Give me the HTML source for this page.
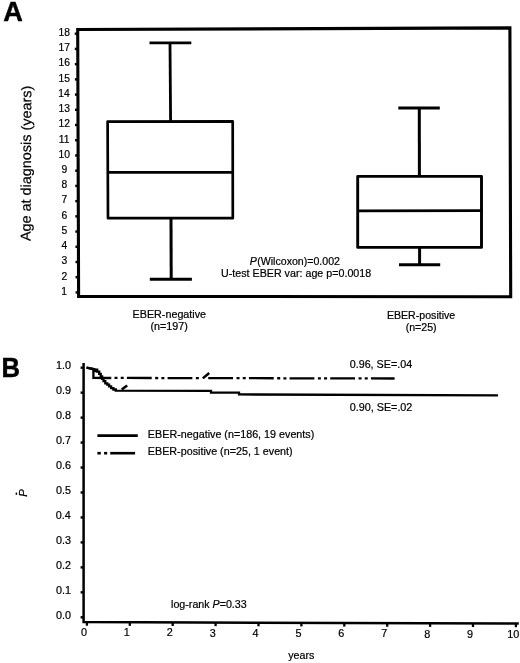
<!DOCTYPE html>
<html><head><meta charset="utf-8"><style>
html,body{margin:0;padding:0;background:#fff;}
svg{display:block;will-change:transform;}
text{font-family:"Liberation Sans", sans-serif;fill:#000;}
</style></head><body>
<svg width="520" height="663" viewBox="0 0 520 663">
<rect width="520" height="663" fill="#fff"/>
<path d="M77.7,29.5 L509.9,27.9 L510.7,296.8 L78.6,296.4 Z" fill="none" stroke="#000" stroke-width="3.1" stroke-linecap="butt" stroke-linejoin="miter"/>
<line x1="75.59" y1="292.44" x2="78.59" y2="292.44" stroke="#000" stroke-width="2.4" stroke-linecap="butt"/>
<line x1="75.54" y1="277.22" x2="78.54" y2="277.22" stroke="#000" stroke-width="2.4" stroke-linecap="butt"/>
<line x1="75.48" y1="262" x2="78.48" y2="262" stroke="#000" stroke-width="2.4" stroke-linecap="butt"/>
<line x1="75.43" y1="246.78" x2="78.43" y2="246.78" stroke="#000" stroke-width="2.4" stroke-linecap="butt"/>
<line x1="75.38" y1="231.56" x2="78.38" y2="231.56" stroke="#000" stroke-width="2.4" stroke-linecap="butt"/>
<line x1="75.33" y1="216.34" x2="78.33" y2="216.34" stroke="#000" stroke-width="2.4" stroke-linecap="butt"/>
<line x1="75.28" y1="201.12" x2="78.28" y2="201.12" stroke="#000" stroke-width="2.4" stroke-linecap="butt"/>
<line x1="75.23" y1="185.9" x2="78.23" y2="185.9" stroke="#000" stroke-width="2.4" stroke-linecap="butt"/>
<line x1="75.18" y1="170.68" x2="78.18" y2="170.68" stroke="#000" stroke-width="2.4" stroke-linecap="butt"/>
<line x1="75.12" y1="155.46" x2="78.12" y2="155.46" stroke="#000" stroke-width="2.4" stroke-linecap="butt"/>
<line x1="75.07" y1="140.24" x2="78.07" y2="140.24" stroke="#000" stroke-width="2.4" stroke-linecap="butt"/>
<line x1="75.02" y1="125.02" x2="78.02" y2="125.02" stroke="#000" stroke-width="2.4" stroke-linecap="butt"/>
<line x1="74.97" y1="109.8" x2="77.97" y2="109.8" stroke="#000" stroke-width="2.4" stroke-linecap="butt"/>
<line x1="74.92" y1="94.58" x2="77.92" y2="94.58" stroke="#000" stroke-width="2.4" stroke-linecap="butt"/>
<line x1="74.87" y1="79.36" x2="77.87" y2="79.36" stroke="#000" stroke-width="2.4" stroke-linecap="butt"/>
<line x1="74.82" y1="64.14" x2="77.82" y2="64.14" stroke="#000" stroke-width="2.4" stroke-linecap="butt"/>
<line x1="74.77" y1="48.92" x2="77.77" y2="48.92" stroke="#000" stroke-width="2.4" stroke-linecap="butt"/>
<line x1="74.71" y1="33.7" x2="77.71" y2="33.7" stroke="#000" stroke-width="2.4" stroke-linecap="butt"/>
<line x1="149.5" y1="42.9" x2="191.3" y2="42.9" stroke="#000" stroke-width="2.9" stroke-linecap="butt"/>
<line x1="170" y1="42.9" x2="170.6" y2="121.7" stroke="#000" stroke-width="2.8" stroke-linecap="butt"/>
<path d="M107.6,121.7 L232.7,121.4 L232.8,218.2 L108.0,218.2 Z" fill="none" stroke="#000" stroke-width="2.7" stroke-linecap="butt" stroke-linejoin="round"/>
<line x1="107.6" y1="172.3" x2="232.7" y2="172.3" stroke="#000" stroke-width="2.7" stroke-linecap="butt"/>
<line x1="171" y1="218.2" x2="171.2" y2="279.3" stroke="#000" stroke-width="3" stroke-linecap="butt"/>
<line x1="149.8" y1="279.3" x2="191.9" y2="279.3" stroke="#000" stroke-width="2.9" stroke-linecap="butt"/>
<line x1="398.3" y1="107.9" x2="439.8" y2="107.9" stroke="#000" stroke-width="3" stroke-linecap="butt"/>
<line x1="419.3" y1="107.9" x2="419.4" y2="176.4" stroke="#000" stroke-width="3" stroke-linecap="butt"/>
<path d="M357.7,176.4 L481.5,176.4 L481.5,247.4 L357.7,247.4 Z" fill="none" stroke="#000" stroke-width="2.9" stroke-linecap="butt" stroke-linejoin="round"/>
<line x1="357.7" y1="210.9" x2="481.5" y2="210.7" stroke="#000" stroke-width="2.8" stroke-linecap="butt"/>
<line x1="419.6" y1="247.4" x2="419.6" y2="264.8" stroke="#000" stroke-width="3" stroke-linecap="butt"/>
<line x1="399" y1="264.8" x2="440.2" y2="264.8" stroke="#000" stroke-width="3" stroke-linecap="butt"/>
<path d="M83.6,363.1 L83.6,622.1 L518.8,623.6" fill="none" stroke="#000" stroke-width="2.5" stroke-linecap="butt" stroke-linejoin="miter"/>
<line x1="80.6" y1="617.3" x2="83" y2="617.3" stroke="#000" stroke-width="2.4" stroke-linecap="butt"/>
<line x1="80.6" y1="592.34" x2="83" y2="592.34" stroke="#000" stroke-width="2.4" stroke-linecap="butt"/>
<line x1="80.6" y1="567.38" x2="83" y2="567.38" stroke="#000" stroke-width="2.4" stroke-linecap="butt"/>
<line x1="80.6" y1="542.42" x2="83" y2="542.42" stroke="#000" stroke-width="2.4" stroke-linecap="butt"/>
<line x1="80.6" y1="517.46" x2="83" y2="517.46" stroke="#000" stroke-width="2.4" stroke-linecap="butt"/>
<line x1="80.6" y1="492.5" x2="83" y2="492.5" stroke="#000" stroke-width="2.4" stroke-linecap="butt"/>
<line x1="80.6" y1="467.54" x2="83" y2="467.54" stroke="#000" stroke-width="2.4" stroke-linecap="butt"/>
<line x1="80.6" y1="442.58" x2="83" y2="442.58" stroke="#000" stroke-width="2.4" stroke-linecap="butt"/>
<line x1="80.6" y1="417.62" x2="83" y2="417.62" stroke="#000" stroke-width="2.4" stroke-linecap="butt"/>
<line x1="80.6" y1="392.66" x2="83" y2="392.66" stroke="#000" stroke-width="2.4" stroke-linecap="butt"/>
<line x1="80.6" y1="367.7" x2="83" y2="367.7" stroke="#000" stroke-width="2.4" stroke-linecap="butt"/>
<line x1="86.9" y1="622.11" x2="86.9" y2="625.71" stroke="#000" stroke-width="2.3" stroke-linecap="butt"/>
<line x1="129.8" y1="622.26" x2="129.8" y2="625.86" stroke="#000" stroke-width="2.3" stroke-linecap="butt"/>
<line x1="172.7" y1="622.41" x2="172.7" y2="626.01" stroke="#000" stroke-width="2.3" stroke-linecap="butt"/>
<line x1="215.6" y1="622.55" x2="215.6" y2="626.15" stroke="#000" stroke-width="2.3" stroke-linecap="butt"/>
<line x1="258.5" y1="622.7" x2="258.5" y2="626.3" stroke="#000" stroke-width="2.3" stroke-linecap="butt"/>
<line x1="301.4" y1="622.85" x2="301.4" y2="626.45" stroke="#000" stroke-width="2.3" stroke-linecap="butt"/>
<line x1="344.3" y1="623" x2="344.3" y2="626.6" stroke="#000" stroke-width="2.3" stroke-linecap="butt"/>
<line x1="387.2" y1="623.15" x2="387.2" y2="626.75" stroke="#000" stroke-width="2.3" stroke-linecap="butt"/>
<line x1="430.1" y1="623.29" x2="430.1" y2="626.89" stroke="#000" stroke-width="2.3" stroke-linecap="butt"/>
<line x1="473" y1="623.44" x2="473" y2="627.04" stroke="#000" stroke-width="2.3" stroke-linecap="butt"/>
<line x1="515.9" y1="623.59" x2="515.9" y2="627.19" stroke="#000" stroke-width="2.3" stroke-linecap="butt"/>
<path d="M86.5,367.6 L93.3,369.2 L95.6,369.7 H97.2 V371.6 H99.2 V373.9 H100.7 V376.3 H102.1 V378.9 H103.5 V381.1 H105.3 V383.3 H107.3 V384.6 H109.1 V386.3 H111.1 V388.1 H113.4 V389.5 H115.8 V390.6 L211,390.8 L211,392.5 L239,392.7 L239,394.45 L498,395.35" fill="none" stroke="#000" stroke-width="2.3" stroke-linecap="butt" stroke-linejoin="miter"/>
<line x1="121.7" y1="389.5" x2="127.2" y2="385.5" stroke="#000" stroke-width="2.5" stroke-linecap="butt"/>
<path d="M86.5,367.6 L93.5,369 L97,370.6" fill="none" stroke="#000" stroke-width="2.3" stroke-linecap="butt" stroke-linejoin="round"/>
<path d="M97,371 L93.4,371 L93.4,377.8 L111.3,378.0" fill="none" stroke="#000" stroke-width="2.3" stroke-linecap="butt" stroke-linejoin="miter"/>
<path d="M114.53,377.94 L117.53,377.95 M120.73,377.95 L123.73,377.96 M126.9,377.97 L151.7,378.02 M155.2,378.02 L158.2,378.03 M161.4,378.04 L164.4,378.04 M167.57,378.05 L192.37,378.1 M195.87,378.1 L198.87,378.11 M208.24,378.13 L233.04,378.18 M236.54,378.19 L239.54,378.19 M242.74,378.2 L245.74,378.2 M248.91,378.21 L273.71,378.26 M277.21,378.27 L280.21,378.27 M283.41,378.28 L286.41,378.28 M289.58,378.29 L314.38,378.34 M317.88,378.35 L320.88,378.35 M324.08,378.36 L327.08,378.37 M330.25,378.37 L355.05,378.42 M358.55,378.43 L361.55,378.43 M364.75,378.44 L367.75,378.45 M370.92,378.45 L394.6,378.5" fill="none" stroke="#000" stroke-width="2.3" stroke-linecap="butt" stroke-linejoin="miter"/>
<line x1="202.8" y1="378.4" x2="209.2" y2="373" stroke="#000" stroke-width="2.5" stroke-linecap="butt"/>
<line x1="97.4" y1="435.6" x2="137.8" y2="435.6" stroke="#000" stroke-width="2.6" stroke-linecap="butt"/>
<line x1="97.4" y1="453.2" x2="100.8" y2="453.2" stroke="#000" stroke-width="2.6" stroke-linecap="butt"/>
<line x1="104.1" y1="453.2" x2="107.2" y2="453.2" stroke="#000" stroke-width="2.6" stroke-linecap="butt"/>
<line x1="110.2" y1="453.2" x2="135.1" y2="453.2" stroke="#000" stroke-width="2.6" stroke-linecap="butt"/>
<line x1="16.4" y1="492.6" x2="16.4" y2="494.8" stroke="#000" stroke-width="1.5" stroke-linecap="butt"/>
<text x="3.31" y="21" font-size="27.5" font-weight="bold" textLength="19.61" lengthAdjust="spacingAndGlyphs" stroke="#000" stroke-width="0.5" stroke-linejoin="round">A</text>
<text x="1.48" y="377" font-size="27" font-weight="bold" textLength="18.47" lengthAdjust="spacingAndGlyphs" stroke="#000" stroke-width="0.5" stroke-linejoin="round">B</text>
<text x="61.31" y="295" font-size="10" font-weight="normal" textLength="5.73" lengthAdjust="spacingAndGlyphs" stroke="#000" stroke-width="0.2" stroke-linejoin="round">1</text>
<text x="61.44" y="280" font-size="10" font-weight="normal" textLength="5.73" lengthAdjust="spacingAndGlyphs" stroke="#000" stroke-width="0.2" stroke-linejoin="round">2</text>
<text x="61.57" y="264" font-size="10" font-weight="normal" textLength="5.73" lengthAdjust="spacingAndGlyphs" stroke="#000" stroke-width="0.2" stroke-linejoin="round">3</text>
<text x="61.44" y="249" font-size="10" font-weight="normal" textLength="5.73" lengthAdjust="spacingAndGlyphs" stroke="#000" stroke-width="0.2" stroke-linejoin="round">4</text>
<text x="61.57" y="234" font-size="10" font-weight="normal" textLength="5.73" lengthAdjust="spacingAndGlyphs" stroke="#000" stroke-width="0.2" stroke-linejoin="round">5</text>
<text x="61.44" y="219" font-size="10" font-weight="normal" textLength="5.73" lengthAdjust="spacingAndGlyphs" stroke="#000" stroke-width="0.2" stroke-linejoin="round">6</text>
<text x="61.44" y="203" font-size="10" font-weight="normal" textLength="5.73" lengthAdjust="spacingAndGlyphs" stroke="#000" stroke-width="0.2" stroke-linejoin="round">7</text>
<text x="61.57" y="188" font-size="10" font-weight="normal" textLength="5.73" lengthAdjust="spacingAndGlyphs" stroke="#000" stroke-width="0.2" stroke-linejoin="round">8</text>
<text x="61.57" y="173" font-size="10" font-weight="normal" textLength="5.73" lengthAdjust="spacingAndGlyphs" stroke="#000" stroke-width="0.2" stroke-linejoin="round">9</text>
<text x="58.48" y="158" font-size="10" font-weight="normal" textLength="11.46" lengthAdjust="spacingAndGlyphs" stroke="#000" stroke-width="0.2" stroke-linejoin="round">10</text>
<text x="58.86" y="143" font-size="10" font-weight="normal" textLength="10.7" lengthAdjust="spacingAndGlyphs" stroke="#000" stroke-width="0.2" stroke-linejoin="round">11</text>
<text x="58.48" y="127" font-size="10" font-weight="normal" textLength="11.46" lengthAdjust="spacingAndGlyphs" stroke="#000" stroke-width="0.2" stroke-linejoin="round">12</text>
<text x="58.48" y="112" font-size="10" font-weight="normal" textLength="11.46" lengthAdjust="spacingAndGlyphs" stroke="#000" stroke-width="0.2" stroke-linejoin="round">13</text>
<text x="58.35" y="97" font-size="10" font-weight="normal" textLength="11.46" lengthAdjust="spacingAndGlyphs" stroke="#000" stroke-width="0.2" stroke-linejoin="round">14</text>
<text x="58.48" y="82" font-size="10" font-weight="normal" textLength="11.46" lengthAdjust="spacingAndGlyphs" stroke="#000" stroke-width="0.2" stroke-linejoin="round">15</text>
<text x="58.48" y="66" font-size="10" font-weight="normal" textLength="11.46" lengthAdjust="spacingAndGlyphs" stroke="#000" stroke-width="0.2" stroke-linejoin="round">16</text>
<text x="58.48" y="51" font-size="10" font-weight="normal" textLength="11.46" lengthAdjust="spacingAndGlyphs" stroke="#000" stroke-width="0.2" stroke-linejoin="round">17</text>
<text x="58.48" y="36" font-size="10" font-weight="normal" textLength="11.46" lengthAdjust="spacingAndGlyphs" stroke="#000" stroke-width="0.2" stroke-linejoin="round">18</text>
<text x="30.6" y="241.1" font-size="14.2" font-weight="normal" textLength="155.46" lengthAdjust="spacingAndGlyphs" transform="rotate(-89.7 30.6 241.1)" stroke="#000" stroke-width="0.2" stroke-linejoin="round">Age at diagnosis (years)</text>
<text x="249.73" y="265" font-size="10" font-weight="normal" textLength="90.28" lengthAdjust="spacingAndGlyphs" stroke="#000" stroke-width="0.2" stroke-linejoin="round"><tspan font-style="italic">P</tspan><tspan dx="0.4">(Wilcoxon)=0.002</tspan></text>
<text x="221" y="277" font-size="10" font-weight="normal" textLength="150.19" lengthAdjust="spacingAndGlyphs" stroke="#000" stroke-width="0.2" stroke-linejoin="round">U-test EBER var: age p=0.0018</text>
<text x="132.59" y="318" font-size="10" font-weight="normal" textLength="73.51" lengthAdjust="spacingAndGlyphs" stroke="#000" stroke-width="0.2" stroke-linejoin="round">EBER-negative</text>
<text x="150.46" y="330" font-size="10" font-weight="normal" textLength="37.38" lengthAdjust="spacingAndGlyphs" stroke="#000" stroke-width="0.2" stroke-linejoin="round">(n=197)</text>
<text x="386.91" y="319" font-size="10" font-weight="normal" textLength="68.33" lengthAdjust="spacingAndGlyphs" stroke="#000" stroke-width="0.2" stroke-linejoin="round">EBER-positive</text>
<text x="405.67" y="331" font-size="10" font-weight="normal" textLength="31" lengthAdjust="spacingAndGlyphs" stroke="#000" stroke-width="0.2" stroke-linejoin="round">(n=25)</text>
<text x="55.92" y="619" font-size="10" font-weight="normal" textLength="15.02" lengthAdjust="spacingAndGlyphs" stroke="#000" stroke-width="0.2" stroke-linejoin="round">0.0</text>
<text x="55.92" y="594" font-size="10" font-weight="normal" textLength="15.02" lengthAdjust="spacingAndGlyphs" stroke="#000" stroke-width="0.2" stroke-linejoin="round">0.1</text>
<text x="55.92" y="569" font-size="10" font-weight="normal" textLength="15.02" lengthAdjust="spacingAndGlyphs" stroke="#000" stroke-width="0.2" stroke-linejoin="round">0.2</text>
<text x="55.92" y="544" font-size="10" font-weight="normal" textLength="15.02" lengthAdjust="spacingAndGlyphs" stroke="#000" stroke-width="0.2" stroke-linejoin="round">0.3</text>
<text x="55.65" y="519" font-size="10" font-weight="normal" textLength="15.02" lengthAdjust="spacingAndGlyphs" stroke="#000" stroke-width="0.2" stroke-linejoin="round">0.4</text>
<text x="55.92" y="494" font-size="10" font-weight="normal" textLength="15.02" lengthAdjust="spacingAndGlyphs" stroke="#000" stroke-width="0.2" stroke-linejoin="round">0.5</text>
<text x="55.92" y="469" font-size="10" font-weight="normal" textLength="15.02" lengthAdjust="spacingAndGlyphs" stroke="#000" stroke-width="0.2" stroke-linejoin="round">0.6</text>
<text x="55.92" y="444" font-size="10" font-weight="normal" textLength="15.02" lengthAdjust="spacingAndGlyphs" stroke="#000" stroke-width="0.2" stroke-linejoin="round">0.7</text>
<text x="55.92" y="419" font-size="10" font-weight="normal" textLength="15.02" lengthAdjust="spacingAndGlyphs" stroke="#000" stroke-width="0.2" stroke-linejoin="round">0.8</text>
<text x="55.92" y="394" font-size="10" font-weight="normal" textLength="15.02" lengthAdjust="spacingAndGlyphs" stroke="#000" stroke-width="0.2" stroke-linejoin="round">0.9</text>
<text x="55.92" y="369" font-size="10" font-weight="normal" textLength="15.02" lengthAdjust="spacingAndGlyphs" stroke="#000" stroke-width="0.2" stroke-linejoin="round">1.0</text>
<text x="81.09" y="636" font-size="10.5" font-weight="normal" textLength="6.02" lengthAdjust="spacingAndGlyphs" stroke="#000" stroke-width="0.2" stroke-linejoin="round">0</text>
<text x="123.73" y="636" font-size="10.5" font-weight="normal" textLength="6.02" lengthAdjust="spacingAndGlyphs" stroke="#000" stroke-width="0.2" stroke-linejoin="round">1</text>
<text x="166.76" y="636" font-size="10.5" font-weight="normal" textLength="6.02" lengthAdjust="spacingAndGlyphs" stroke="#000" stroke-width="0.2" stroke-linejoin="round">2</text>
<text x="209.79" y="637" font-size="10.5" font-weight="normal" textLength="6.02" lengthAdjust="spacingAndGlyphs" stroke="#000" stroke-width="0.2" stroke-linejoin="round">3</text>
<text x="252.56" y="637" font-size="10.5" font-weight="normal" textLength="6.02" lengthAdjust="spacingAndGlyphs" stroke="#000" stroke-width="0.2" stroke-linejoin="round">4</text>
<text x="295.46" y="637" font-size="10.5" font-weight="normal" textLength="6.02" lengthAdjust="spacingAndGlyphs" stroke="#000" stroke-width="0.2" stroke-linejoin="round">5</text>
<text x="338.36" y="637" font-size="10.5" font-weight="normal" textLength="6.02" lengthAdjust="spacingAndGlyphs" stroke="#000" stroke-width="0.2" stroke-linejoin="round">6</text>
<text x="381.26" y="637" font-size="10.5" font-weight="normal" textLength="6.02" lengthAdjust="spacingAndGlyphs" stroke="#000" stroke-width="0.2" stroke-linejoin="round">7</text>
<text x="424.29" y="638" font-size="10.5" font-weight="normal" textLength="6.02" lengthAdjust="spacingAndGlyphs" stroke="#000" stroke-width="0.2" stroke-linejoin="round">8</text>
<text x="467.06" y="638" font-size="10.5" font-weight="normal" textLength="6.02" lengthAdjust="spacingAndGlyphs" stroke="#000" stroke-width="0.2" stroke-linejoin="round">9</text>
<text x="507.32" y="638" font-size="10.5" font-weight="normal" textLength="12.04" lengthAdjust="spacingAndGlyphs" stroke="#000" stroke-width="0.2" stroke-linejoin="round">10</text>
<text x="288.2" y="659" font-size="10" font-weight="normal" textLength="26.12" lengthAdjust="spacingAndGlyphs" stroke="#000" stroke-width="0.2" stroke-linejoin="round">years</text>
<text x="349.73" y="368" font-size="10" font-weight="normal" textLength="62.39" lengthAdjust="spacingAndGlyphs" stroke="#000" stroke-width="0.2" stroke-linejoin="round">0.96, SE=.04</text>
<text x="349.73" y="411" font-size="10" font-weight="normal" textLength="62.66" lengthAdjust="spacingAndGlyphs" stroke="#000" stroke-width="0.2" stroke-linejoin="round">0.90, SE=.02</text>
<text x="147.89" y="438" font-size="10" font-weight="normal" textLength="166.43" lengthAdjust="spacingAndGlyphs" stroke="#000" stroke-width="0.2" stroke-linejoin="round">EBER-negative (n=186, 19 events)</text>
<text x="147.89" y="455" font-size="10" font-weight="normal" textLength="144.79" lengthAdjust="spacingAndGlyphs" stroke="#000" stroke-width="0.2" stroke-linejoin="round">EBER-positive (n=25, 1 event)</text>
<text x="171.07" y="608" font-size="10" font-weight="normal" textLength="75.65" lengthAdjust="spacingAndGlyphs" stroke="#000" stroke-width="0.2" stroke-linejoin="round">log-rank <tspan font-style="italic">P</tspan>=0.33</text>
<text x="27.4" y="496.85" font-size="11.5" font-weight="normal" textLength="7.57" lengthAdjust="spacingAndGlyphs" transform="rotate(-90 27.4 496.85)" stroke="#000" stroke-width="0.2" stroke-linejoin="round"><tspan font-style="italic">P</tspan></text>
</svg>
</body></html>
